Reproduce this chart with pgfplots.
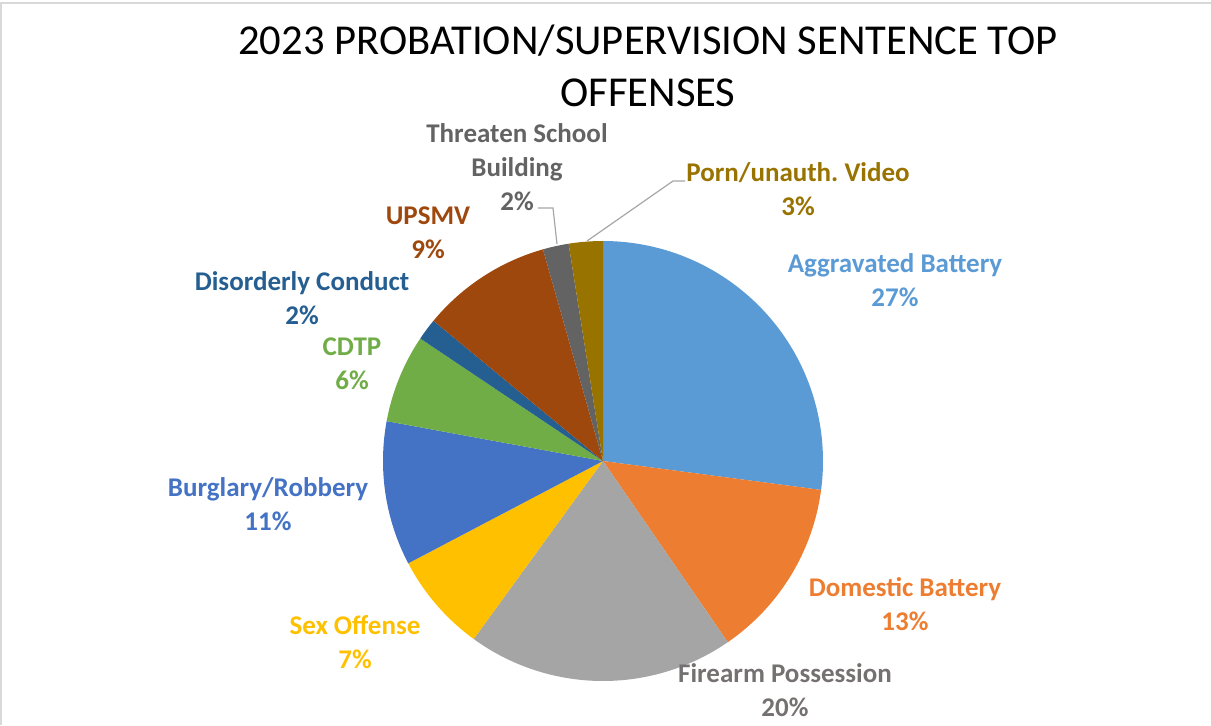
\documentclass[border=0pt]{standalone}
\usepackage{pgfplots}
\pgfplotsset{compat=1.18}
\usepackage{fontspec}
\setmainfont{Carlito}
\frenchspacing

\definecolor{cAgg}{HTML}{5B9BD5}
\definecolor{cDom}{HTML}{ED7D31}
\definecolor{cFir}{HTML}{A5A5A5}
\definecolor{cFirTxt}{HTML}{767171}
\definecolor{cSex}{HTML}{FFC000}
\definecolor{cBur}{HTML}{4472C4}
\definecolor{cCdt}{HTML}{70AD47}
\definecolor{cDis}{HTML}{255E91}
\definecolor{cUps}{HTML}{9E480E}
\definecolor{cThr}{HTML}{636363}
\definecolor{cPor}{HTML}{997300}

\tikzset{lbl/.style={font=\bfseries\fontsize{13.5}{17}\selectfont, align=center}}

% running total of the shares already drawn (percent)
\gdef\cum{0}
% #1 share in percent, #2 colour; slices go clockwise from 12 o'clock
\newcommand{\slice}[2]{%
  \pgfmathsetmacro{\angA}{90-3.6*\cum}%
  \pgfmathsetmacro{\angB}{90-3.6*(\cum+#1)}%
  \pgfmathsetmacro{\newcum}{\cum+#1}%
  \xdef\cum{\newcum}%
  \addplot[fill=#2, draw=none, data cs=polar, domain=\angB:\angA, samples=80]
    {220} -- (axis cs:0,0) -- cycle;
}

\begin{document}
\begin{tikzpicture}
\begin{axis}[
    width=605.5pt, height=362.5pt,
    scale only axis,
    hide axis,
    clip=false,
    xmin=-603, xmax=608,
    ymin=-264, ymax=461,
    ]

\slice{27.1}{cAgg}  % Aggravated Battery
\slice{13.3}{cDom}  % Domestic Battery
\slice{19.6}{cFir}  % Firearm Possession
\slice{7.3}{cSex}   % Sex Offense
\slice{10.6}{cBur}  % Burglary/Robbery
\slice{6.5}{cCdt}   % CDTP
\slice{1.6}{cDis}   % Disorderly Conduct
\slice{9.6}{cUps}   % UPSMV
\slice{1.9}{cThr}   % Threaten School Building
\slice{2.5}{cPor}   % Porn/unauth. Video

% frame
\draw[color=black!15, line width=1pt] (axis cs:-602,-264) -- (axis cs:-602,458) -- (axis cs:608,458);

% title
\node[font=\fontsize{21.3}{26}\selectfont, align=center] at (axis cs:45,395)
  {2023 PROBATION/SUPERVISION SENTENCE TOP\\OFFENSES};

% leader lines
\draw[color=black!35, line width=0.6pt] (axis cs:-65,253) -- (axis cs:-50,253) -- (axis cs:-46,217);
\draw[color=black!35, line width=0.6pt] (axis cs:82,280) -- (axis cs:70,280) -- (axis cs:-16,220);

% data labels
\node[lbl, text=cAgg] at (axis cs:292,181) {Aggravated Battery\\27\%};
\node[lbl, text=cDom] at (axis cs:302,-143.5) {Domestic Battery\\13\%};
\node[lbl, text=cFirTxt] at (axis cs:182,-229) {Firearm Possession\\20\%};
\node[lbl, text=cSex] at (axis cs:-248,-181.5) {Sex Offense\\7\%};
\node[lbl, text=cBur] at (axis cs:-335,-43.5) {Burglary/Robbery\\11\%};
\node[lbl, text=cCdt] at (axis cs:-251,97.5) {CDTP\\6\%};
\node[lbl, text=cDis] at (axis cs:-301,162.5) {Disorderly Conduct\\2\%};
\node[lbl, text=cUps] at (axis cs:-175,228.5) {UPSMV\\9\%};
\node[lbl, text=cThr] at (axis cs:-86,293.5) {Threaten School\\Building\\2\%};
\node[lbl, text=cPor] at (axis cs:195,271.5) {Porn/unauth. Video\\3\%};

\end{axis}
\pgfresetboundingbox
\useasboundingbox (current axis.south west) rectangle (current axis.north east);
\end{tikzpicture}
\end{document}
